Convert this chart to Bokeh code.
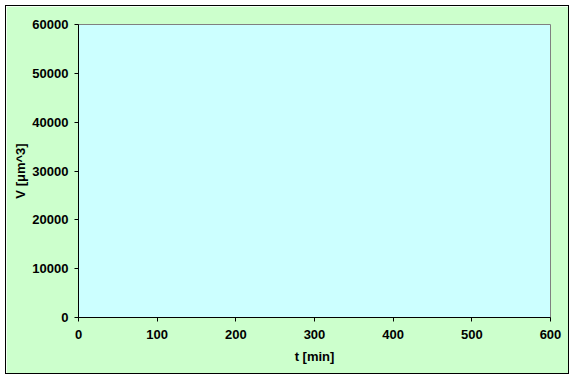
from bokeh.plotting import figure
from bokeh.models import Range1d, FixedTicker, ColumnDataSource
from bokeh.embed import file_html
from bokeh.resources import INLINE

# Data (the reference chart shows no plotted series)
t_values = []
v_values = []
x_ticks = [0, 100, 200, 300, 400, 500, 600]
y_ticks = [0, 10000, 20000, 30000, 40000, 50000, 60000]

p = figure(width=564, height=369, output_backend="svg", toolbar_location=None,
           x_range=Range1d(0, 600), y_range=Range1d(0, 60000),
           min_border_left=72, min_border_right=20, min_border_top=18, min_border_bottom=58)
p.margin = (5, 0, 0, 5)
p.styles = {"border": "1px solid black", "box-sizing": "border-box"}

src = ColumnDataSource(dict(t=t_values, v=v_values))
p.line("t", "v", source=src, line_color="navy")

p.background_fill_color = "#CCFFFF"
p.border_fill_color = "#CCFFCC"
p.outline_line_color = "#808080"
p.outline_line_width = 1
p.xgrid.visible = False
p.ygrid.visible = False

p.xaxis.ticker = FixedTicker(ticks=x_ticks)
p.yaxis.ticker = FixedTicker(ticks=y_ticks)
for ax in (p.xaxis[0], p.yaxis[0]):
    ax.axis_line_color = "black"
    ax.major_tick_line_color = "black"
    ax.major_tick_out = 4
    ax.major_tick_in = 0
    ax.minor_tick_line_color = None
    ax.major_label_text_font = "Liberation Sans"
    ax.major_label_text_font_style = "bold"
    ax.major_label_text_font_size = "13px"
    ax.major_label_text_color = "black"
    ax.axis_label_text_font = "Liberation Sans"
    ax.axis_label_text_font_style = "bold"
    ax.axis_label_text_font_size = "13px"
    ax.axis_label_text_color = "black"

p.xaxis.axis_label = "t [min]"
p.yaxis.axis_label = "V [μm^3]"
p.xaxis.major_label_standoff = 8
p.yaxis.major_label_standoff = 6
p.xaxis.axis_label_standoff = 7
p.yaxis.axis_label_standoff = 1

open("out.html", "w").write(file_html(p, INLINE))
